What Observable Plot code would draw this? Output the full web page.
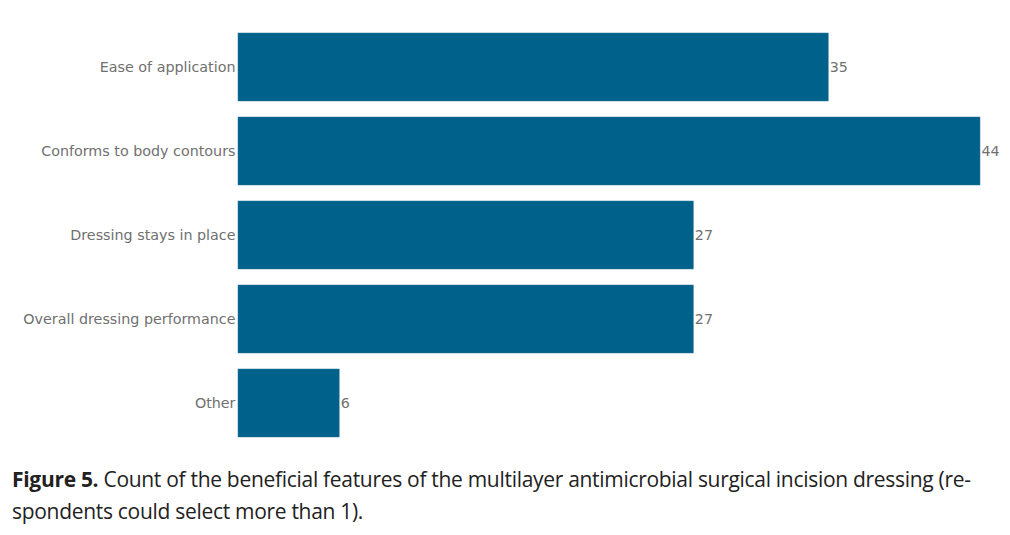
<!DOCTYPE html>
<html>
<head>
<meta charset="utf-8">
<script src="https://cdn.jsdelivr.net/npm/d3@7"></script>
<script src="https://cdn.jsdelivr.net/npm/@observablehq/plot@0.6"></script>
<style>
  html, body { margin: 0; padding: 0; background: #fff; }
  #caption { font-family: "Open Sans", Lato, sans-serif; font-size: 21px; color: #222; margin: 9px 0 0 12px; width: 990px; line-height: 32px; letter-spacing: -0.3px; white-space: nowrap; }
  #caption b { font-weight: 700; }
</style>
</head>
<body>
<div id="chart"></div>
<div id="caption"><b>Figure 5.</b> Count of the beneficial features of the multilayer antimicrobial surgical incision dressing (re-<br>spondents could select more than 1).</div>
<script>
const categories = ["Ease of application", "Conforms to body contours", "Dressing stays in place", "Overall dressing performance", "Other"];
const counts = [35, 44, 27, 27, 6];

const data = categories.map((c, i) => ({category: c, count: counts[i]}));

const chart = Plot.plot({
  width: 1010,
  height: 454,
  marginLeft: 238,
  marginRight: 30,
  marginTop: 15.5,
  marginBottom: 0,
  style: {fontFamily: "'DejaVu Sans', Verdana, sans-serif", fontSize: "14.3px", color: "#707070"},
  x: {domain: [0, 44], axis: null},
  y: {domain: categories, padding: 0.195, label: null, tickSize: 0, tickPadding: 3},
  marks: [
    Plot.barX(data, {x: "count", y: "category", fill: "#00618a", stroke: "#2f7a9a", strokeWidth: 0.5}),
    Plot.text(data, {x: "count", y: "category", text: d => String(d.count), textAnchor: "start", dx: 1, fill: "#707070"})
  ]
});
document.getElementById("chart").appendChild(chart);
</script>
</body>
</html>
